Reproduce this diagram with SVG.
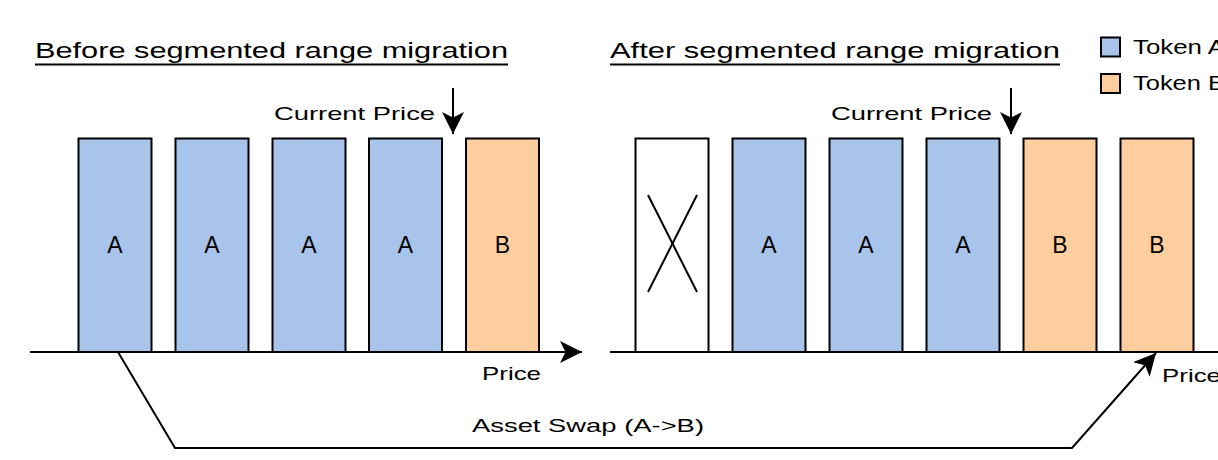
<svg xmlns="http://www.w3.org/2000/svg" width="1218" height="460" viewBox="0 0 1218 460">
<style>
.hand{font-family:"Liberation Sans","DejaVu Sans",sans-serif;fill:#000;}
.title{font-size:22px;}
.lbl{font-size:19px;}
.leg{font-size:20px;}
.box text{font-family:"Liberation Sans",Arial,sans-serif;font-size:23px;fill:#000;text-anchor:middle;}
.a{fill:#A9C4EB;stroke:#000;stroke-width:2;}
.b{fill:#FFCE9F;stroke:#000;stroke-width:2;}
.e{fill:#fff;stroke:#000;stroke-width:2;}
.ln{fill:none;stroke:#000;stroke-width:2;}
</style>
<defs>
<marker id="ah2" viewBox="0 0 10 10" refX="10" refY="5" markerWidth="22" markerHeight="22" markerUnits="userSpaceOnUse" orient="auto">
<path d="M0,0 L10,5 L0,10 L2.5,5 Z" fill="#000"/>
</marker>
</defs>

<g id="title-before">
<text class="hand title" x="35" y="58" textLength="473" lengthAdjust="spacingAndGlyphs">Before segmented range migration</text>
<line class="ln" x1="35" y1="64.5" x2="508" y2="64.5"/>
</g>
<g id="title-after">
<text class="hand title" x="610" y="58" textLength="450" lengthAdjust="spacingAndGlyphs">After segmented range migration</text>
<line class="ln" x1="610" y1="64.5" x2="1060" y2="64.5"/>
</g>

<g id="legend">
<rect class="a" x="1101" y="37.5" width="19" height="19"/>
<text class="hand leg" x="1133" y="54" textLength="92" lengthAdjust="spacingAndGlyphs">Token A</text>
<rect class="b" x="1101" y="74" width="19" height="19"/>
<text class="hand leg" x="1133" y="90" textLength="92" lengthAdjust="spacingAndGlyphs">Token B</text>
</g>

<g id="before-boxes">
<g id="b1" class="box"><rect class="a" x="78.5" y="138.5" width="73" height="213.5"/><text x="115" y="253">A</text></g>
<g id="b2" class="box"><rect class="a" x="175.5" y="138.5" width="73" height="213.5"/><text x="212" y="253">A</text></g>
<g id="b3" class="box"><rect class="a" x="272.5" y="138.5" width="73" height="213.5"/><text x="309" y="253">A</text></g>
<g id="b4" class="box"><rect class="a" x="369" y="138.5" width="73" height="213.5"/><text x="405.5" y="253">A</text></g>
<g id="b5" class="box"><rect class="b" x="466" y="138.5" width="73" height="213.5"/><text x="502.5" y="253">B</text></g>
</g>

<g id="after-boxes">
<g id="a1" class="box"><rect class="e" x="635.5" y="138.5" width="73" height="213.5"/>
<line class="ln" x1="648" y1="195" x2="697" y2="292"/><line class="ln" x1="697" y1="195" x2="648" y2="292"/></g>
<g id="a2" class="box"><rect class="a" x="732.5" y="138.5" width="73" height="213.5"/><text x="769" y="253">A</text></g>
<g id="a3" class="box"><rect class="a" x="829.5" y="138.5" width="73" height="213.5"/><text x="866" y="253">A</text></g>
<g id="a4" class="box"><rect class="a" x="926.5" y="138.5" width="73" height="213.5"/><text x="963" y="253">A</text></g>
<g id="a5" class="box"><rect class="b" x="1023.5" y="138.5" width="73" height="213.5"/><text x="1060" y="253">B</text></g>
<g id="a6" class="box"><rect class="b" x="1120.5" y="138.5" width="73" height="213.5"/><text x="1157" y="253">B</text></g>
</g>

<g id="labels">
<text class="hand lbl" x="274" y="120" textLength="161" lengthAdjust="spacingAndGlyphs">Current Price</text>
<text class="hand lbl" x="831" y="120" textLength="161" lengthAdjust="spacingAndGlyphs">Current Price</text>
<text class="hand lbl" x="482" y="380" textLength="59" lengthAdjust="spacingAndGlyphs">Price</text>
<text class="hand lbl" x="1162" y="382" textLength="59" lengthAdjust="spacingAndGlyphs">Price</text>
<text class="hand lbl" x="472" y="432" textLength="232" lengthAdjust="spacingAndGlyphs">Asset Swap (A-&gt;B)</text>
</g>

<g id="connectors">
<line class="ln" x1="30" y1="352" x2="582" y2="352" marker-end="url(#ah2)"/>
<line class="ln" x1="610" y1="352" x2="1218" y2="352"/>
<line class="ln" x1="453" y1="88" x2="453" y2="134" marker-end="url(#ah2)"/>
<line class="ln" x1="1011" y1="88" x2="1011" y2="134" marker-end="url(#ah2)"/>
<polyline class="ln" points="118,352 175,448 1072,448 1156,353" marker-end="url(#ah2)"/>
</g>
</svg>
